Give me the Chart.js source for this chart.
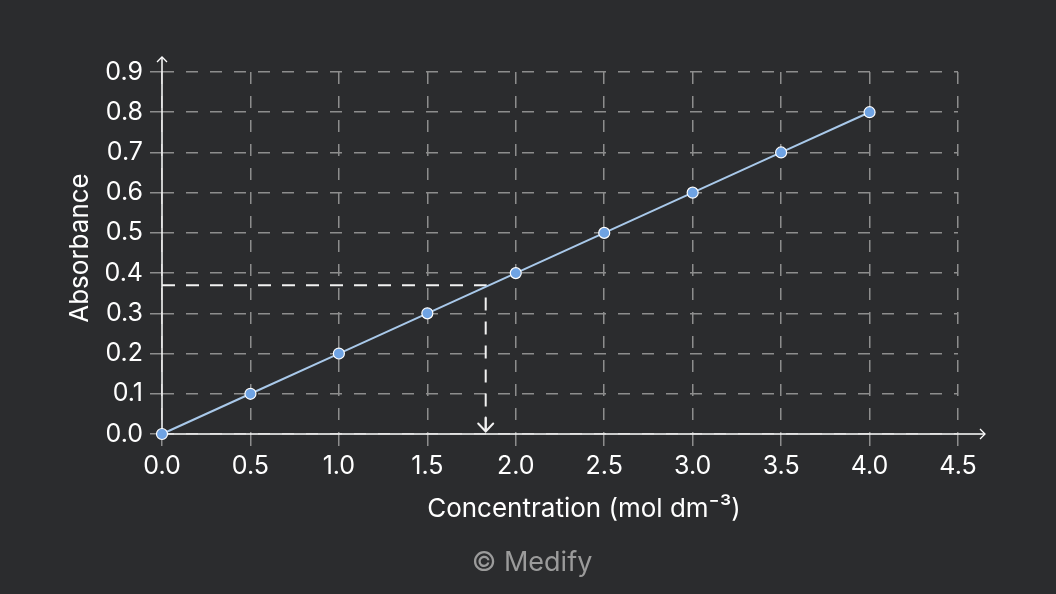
<!DOCTYPE html>
<html><head><meta charset="utf-8">
<script src="https://cdn.jsdelivr.net/npm/chart.js@4"></script>
<style>html,body{margin:0;padding:0;background:#2b2c2e;}canvas{display:block;}</style>
</head><body>
<canvas id="c" width="1056" height="594"></canvas>
<script>
const concentration = [0, 0.5, 1.0, 1.5, 2.0, 2.5, 3.0, 3.5, 4.0];
const absorbance = [0, 0.1, 0.2, 0.3, 0.4, 0.5, 0.6, 0.7, 0.8];
const readX = [0, 1.83, 1.83];
const readY = [0.37, 0.37, 0];
const xTitle = 'Concentration (mol dm⁻³)';
const yTitle = 'Absorbance';
const credit = '© Medify';

const FONT = 'Inter, "Liberation Sans", sans-serif';

const axesPlugin = {
  id: 'axesArrows',
  beforeDatasetsDraw(chart) {
    const {ctx, scales: {x, y}} = chart;
    const x0 = x.getPixelForValue(0), y0 = y.getPixelForValue(0);
    const xEnd = x.right + 27, yTop = y.top - 15;
    ctx.save();
    ctx.strokeStyle = '#ffffff';
    ctx.lineWidth = 1.5;
    ctx.beginPath();
    ctx.moveTo(x0, y0); ctx.lineTo(xEnd, y0);
    ctx.moveTo(x0, y0); ctx.lineTo(x0, yTop);
    ctx.stroke();
    ctx.lineWidth = 1.3;
    ctx.beginPath();
    ctx.moveTo(xEnd - 5, y0 - 5); ctx.lineTo(xEnd, y0); ctx.lineTo(xEnd - 5, y0 + 5);
    ctx.moveTo(x0 - 5, yTop + 5); ctx.lineTo(x0, yTop); ctx.lineTo(x0 + 5, yTop + 5);
    ctx.stroke();
    ctx.restore();
  },
  afterDatasetsDraw(chart) {
    const {ctx, scales: {x, y}} = chart;
    const ax = x.getPixelForValue(readX[2]), ay = y.getPixelForValue(readY[2]) - 2.5;
    ctx.save();
    ctx.strokeStyle = '#f2f2f2';
    ctx.lineWidth = 2;
    ctx.lineCap = 'round';
    ctx.beginPath();
    ctx.moveTo(ax - 7.5, ay - 8); ctx.lineTo(ax, ay); ctx.lineTo(ax + 7.5, ay - 8);
    ctx.moveTo(ax, ay - 14); ctx.lineTo(ax, ay);
    ctx.stroke();
    ctx.restore();
  },
  afterDraw(chart) {
    const {ctx} = chart;
    ctx.save();
    ctx.textAlign = 'center';
    ctx.textBaseline = 'middle';
    ctx.fillStyle = '#ffffff';
    ctx.font = '26px ' + FONT;
    ctx.fillText(xTitle, 584, 509);
    ctx.fillStyle = '#9b9b9b';
    ctx.font = '27px ' + FONT;
    ctx.fillText(credit, 532, 563);
    ctx.translate(80, 248);
    ctx.rotate(-Math.PI / 2);
    ctx.fillStyle = '#ffffff';
    ctx.font = '26px ' + FONT;
    ctx.fillText(yTitle, 0, 0);
    ctx.restore();
  }
};

new Chart(document.getElementById('c'), {
  type: 'scatter',
  data: {
    datasets: [
      {
        data: readX.map((v, i) => ({x: v, y: readY[i]})),
        showLine: true,
        borderColor: '#f2f2f2',
        borderWidth: 2,
        borderDash: [13, 11],
        pointRadius: 0,
        order: 2
      },
      {
        data: concentration.map((v, i) => ({x: v, y: absorbance[i]})),
        showLine: true,
        borderColor: '#a9c9ea',
        borderWidth: 2,
        pointRadius: 5.5,
        pointBackgroundColor: '#6fa3e3',
        pointBorderColor: '#ffffff',
        pointBorderWidth: 1.2,
        clip: false,
        order: 1
      }
    ]
  },
  options: {
    responsive: false,
    animation: false,
    layout: {padding: {left: 0, top: 72, right: 98, bottom: 56}},
    plugins: {
      legend: {display: false},
      tooltip: {enabled: false}
    },
    scales: {
      x: {
        type: 'linear', min: 0, max: 4.5,
        afterFit: s => { s.height = 104; },
        border: {display: false, dash: [12, 12]},
        grid: {color: '#8d8d8d', lineWidth: 1.5, tickBorderDash: [], tickColor: '#8d8d8d', tickLength: 12},
        ticks: {stepSize: 0.5, color: '#ffffff', padding: 5, font: {family: FONT, size: 25}, callback: v => v.toFixed(1)},
        title: {display: false}
      },
      y: {
        type: 'linear', min: 0, max: 0.9,
        afterFit: s => { s.width = 162; },
        border: {display: false, dash: [12, 12]},
        grid: {color: '#8d8d8d', lineWidth: 1.5, tickBorderDash: [], tickColor: '#8d8d8d', tickLength: 12},
        ticks: {stepSize: 0.1, color: '#ffffff', padding: 7, font: {family: FONT, size: 25}, callback: v => v.toFixed(1)},
        title: {display: false}
      }
    }
  },
  plugins: [axesPlugin]
});
</script>
</body></html>
